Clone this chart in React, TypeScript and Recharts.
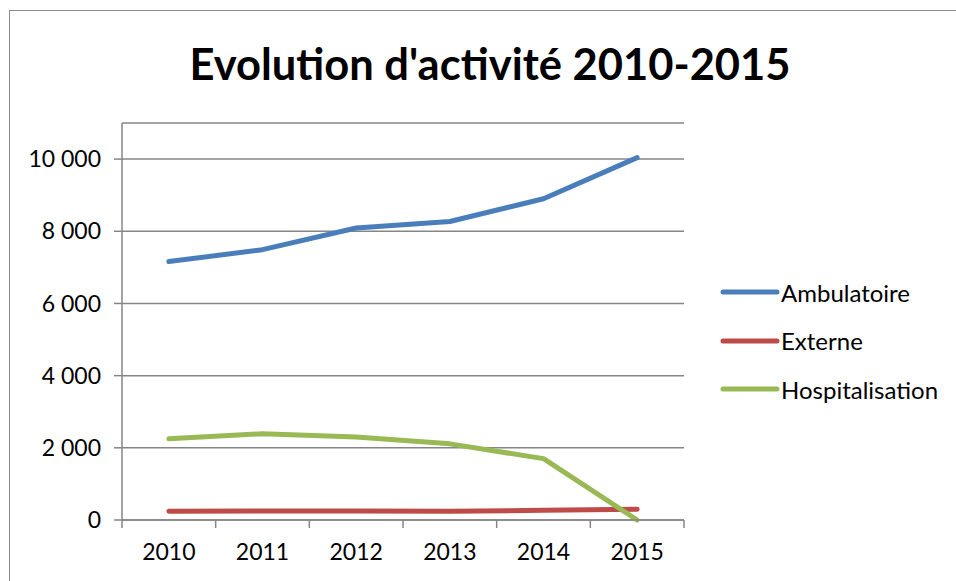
import React from "react";
import { LineChart, Line, XAxis, YAxis, CartesianGrid } from "recharts";

const years = [2010, 2011, 2012, 2013, 2014, 2015];
const ambulatoire = [7160, 7490, 8090, 8270, 8900, 10040];
const externe = [240, 250, 250, 240, 270, 300];
const hospitalisation = [2250, 2390, 2300, 2110, 1700, 0];
const yTicks = [0, 2000, 4000, 6000, 8000, 10000];
const seriesNames = ["Ambulatoire", "Externe", "Hospitalisation"];
const seriesColors = ["#4A7EBB", "#BE4B48", "#98B954"];

const data = years.map((y, i) => ({
  year: y,
  Ambulatoire: ambulatoire[i],
  Externe: externe[i],
  Hospitalisation: hospitalisation[i],
}));

const xTicks: number[] = [];
years.forEach((y, i) => {
  if (i === 0) xTicks.push(y - 0.5);
  xTicks.push(y);
  xTicks.push(y + 0.5);
});

const FONT = "Lato, 'Open Sans', 'DejaVu Sans', sans-serif";
const GRAY = "#868686";
const TICK_FS = 23;

const fmt = (v: number) => String(v).replace(/\B(?=(\d{3})+(?!\d))/g, " ");

const XTick = (props: any) => {
  const { x, y, payload } = props;
  const v = payload.value;
  if (Math.abs(v - Math.round(v)) > 0.01) {
    return <line x1={x} x2={x} y1={y} y2={y + 8} stroke={GRAY} strokeWidth={1.5} />;
  }
  return (
    <text x={x} y={y + 40} textAnchor="middle" fontFamily={FONT} fontSize={TICK_FS} fill="#000">
      {v}
    </text>
  );
};

const LegendBox = () => (
  <div style={{ position: "absolute", left: 719, top: 268, fontFamily: FONT, fontSize: 24, color: "#000" }}>
    {seriesNames.map((n, i) => (
      <div key={n} style={{ display: "flex", alignItems: "center", height: 48.5 }}>
        <svg width={62} height={10}>
          <line x1={4} x2={58} y1={5} y2={5} stroke={seriesColors[i]} strokeWidth={5} strokeLinecap="round" />
        </svg>
        <span>{n}</span>
      </div>
    ))}
  </div>
);

export default function App() {
  return (
    <div style={{ position: "absolute", left: 0, top: 0, width: 956, height: 581, background: "#fff", overflow: "hidden" }}>
      <div
        style={{
          position: "absolute",
          left: 9,
          top: 10,
          width: 947,
          height: 571,
          borderLeft: "1.5px solid #8c8c8c",
          borderTop: "1.5px solid #8c8c8c",
          boxSizing: "border-box",
        }}
      />
      <div
        style={{
          position: "absolute",
          left: 0,
          top: 37,
          width: 980,
          textAlign: "center",
          fontFamily: FONT,
          fontWeight: 700,
          fontSize: 43.5,
          color: "#000",
        }}
      >
        Evolution d'activité 2010-2015
      </div>
      <div style={{ position: "absolute", left: 0, top: 0 }}>
        <LineChart width={956} height={581} data={data} margin={{ top: 123, right: 272, bottom: 21, left: 0 }}>
          <CartesianGrid horizontal vertical={false} stroke={GRAY} strokeWidth={1.5} />
          <XAxis
            dataKey="year"
            type="number"
            domain={[2009.5, 2015.5]}
            ticks={xTicks}
            interval={0}
            tickLine={false}
            tickSize={0}
            tickMargin={0}
            tick={<XTick />}
            axisLine={{ stroke: GRAY, strokeWidth: 1.5 }}
            height={40}
          />
          <YAxis
            type="number"
            domain={[0, 11000]}
            ticks={yTicks}
            interval={0}
            width={122}
            tickSize={8}
            tickMargin={13}
            tickFormatter={fmt}
            tick={{ fontFamily: FONT, fontSize: TICK_FS, fill: "#000" }}
            tickLine={{ stroke: GRAY, strokeWidth: 1.5 }}
            axisLine={{ stroke: GRAY, strokeWidth: 1.5 }}
          />
          {seriesNames.map((n, i) => (
            <Line
              key={n}
              type="linear"
              dataKey={n}
              stroke={seriesColors[i]}
              strokeWidth={5}
              strokeLinecap="round"
              strokeLinejoin="round"
              dot={false}
              activeDot={false}
              isAnimationActive={false}
            />
          ))}
        </LineChart>
      </div>
      <LegendBox />
    </div>
  );
}
